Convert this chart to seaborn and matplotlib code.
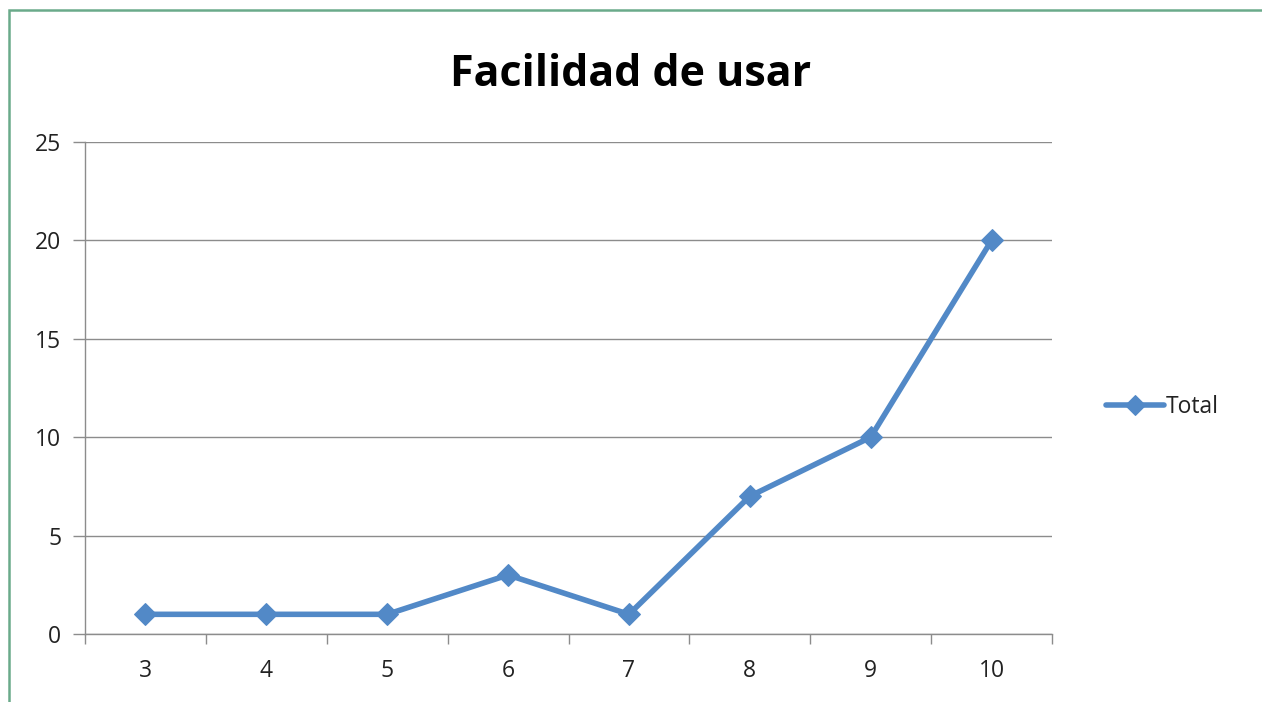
import matplotlib
matplotlib.use("Agg")
import matplotlib.pyplot as plt
import seaborn as sns
import pandas as pd
from matplotlib.patches import Rectangle

categories = ["3", "4", "5", "6", "7", "8", "9", "10"]
totals = [1, 1, 1, 3, 1, 7, 10, 20]
y_ticks = [0, 5, 10, 15, 20, 25]

sns.set_style("white")
plt.rcParams['font.family'] = ['Open Sans', 'DejaVu Sans']

df = pd.DataFrame({"cat": categories, "Total": totals})

fig = plt.figure(figsize=(12.62, 7.02), dpi=100)
ax = fig.add_axes([85/1262, 1-634/702, (1052-85)/1262, (634-142)/702])

color = "#5289C7"
sns.lineplot(data=df, x="cat", y="Total", ax=ax, color=color, linewidth=4,
             marker="D", markersize=11, markeredgecolor=color, label="Total",
             sort=False)

ax.set_xlim(-0.5, len(categories) - 0.5)
ax.set_ylim(0, 25)
ax.set_yticks(y_ticks)
ax.set_yticklabels([str(t) for t in y_ticks])
ax.set_xticks(range(len(categories)))
ax.set_xticklabels(categories)
ax.set_xticks([i - 0.5 for i in range(len(categories) + 1)], minor=True)
ax.tick_params(axis='x', which='major', bottom=True, length=0, pad=18, labelsize=16.5, labelcolor="#222222")
ax.tick_params(axis='x', which='minor', bottom=True, length=7, width=1, color="#8c8c8c", direction='out')
ax.tick_params(axis='y', which='major', left=True, length=9, width=1, color="#8c8c8c", pad=8, labelsize=16.5, labelcolor="#222222", direction='out')
ax.grid(axis='y', color="#8c8c8c", linewidth=1)
ax.set_axisbelow(True)
for s in ["top", "right"]:
    ax.spines[s].set_visible(False)
for s in ["left", "bottom"]:
    ax.spines[s].set_color("#8c8c8c")
    ax.spines[s].set_linewidth(1)
ax.set_xlabel("")
ax.set_ylabel("")

leg = ax.legend(loc="center left", bbox_to_anchor=(1.035, 0.461), frameon=False,
                fontsize=16.5, handlelength=2.5, handletextpad=0.1, markerscale=0.9)
for t in leg.get_texts():
    t.set_color("#222222")

fig.text(0.5, 1 - 74/702, "Facilidad de usar", ha="center", va="center",
         fontsize=31, fontweight="bold", color="black")

fig.patches.append(Rectangle((9/1262, -0.1), 1.2, 1 - 10/702 + 0.1,
                             transform=fig.transFigure, fill=False,
                             edgecolor="#6aaa8a", linewidth=1.8))

fig.savefig("out.png", dpi=100)
